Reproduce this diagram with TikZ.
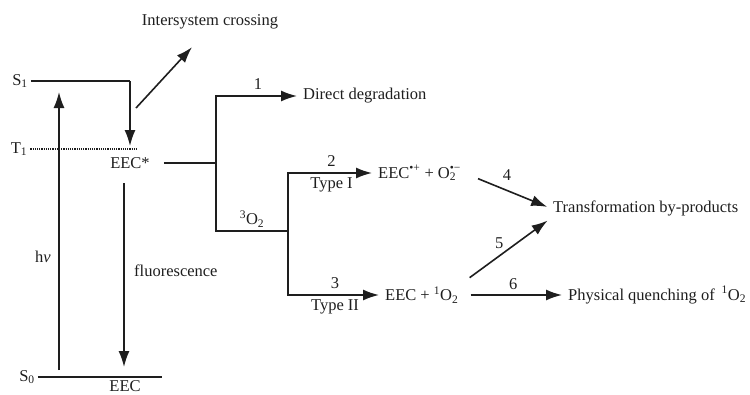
\documentclass[tikz,border=0pt]{standalone}
\usepackage{fontspec}
\setmainfont{Liberation Serif}
\usepackage{xcolor}
\definecolor{cMain}{HTML}{1E1E1E}
\usetikzlibrary{positioning,arrows.meta,calc}
\tikzset{
  lbl/.style={inner sep=3pt,text=cMain,font=\fontsize{16.5}{19}\selectfont},
  num/.style={lbl,inner sep=1pt},
  line-main/.style={line width=1.6pt,draw=cMain},
  arrow/.style={line-main,-{Latex[length=16pt,width=11pt]},shorten >=3pt},
  level-dot/.style={line width=1.2pt,draw=cMain,densely dotted},
}

\begin{document}
\begin{tikzpicture}[x=1pt,y=-1pt]
  \useasboundingbox (0,0) rectangle (750,394);
  % energy levels
  \node[lbl] (s1) at (20,81) {S\textsubscript{1}};
  \node[lbl] (t1) at (19,149) {T\textsubscript{1}};
  \node[lbl] (s0) at (27,377) {S\textsubscript{0}};
  \coordinate (s1r) at (130,81);
  \coordinate (t1r) at (138,149);
  \coordinate (s0r) at (162,377);
  \draw[line-main] (s1) -- (s1r);
  \draw[level-dot] (t1) -- (t1r);
  \draw[line-main] (s0) -- (s0r);
  \node[lbl] (eecs) at (130,163) {EEC*};
  \node[lbl] (eec0) at (125,386) {EEC};
  \node[lbl] (isc) at (210,22) {Intersystem crossing};
  \node[lbl] (hv) at (43,257) {h\textit{ν}};
  \node[lbl,anchor=west] (fl) at (131,271) {fluorescence};
  \coordinate (iscA) at (136,108);
  \coordinate (iscB) at (194,45);
  \coordinate (hvA) at (59,370);
  \coordinate (hvB) at (59,89);
  \coordinate (flA) at (124,183);
  \coordinate (flB) at (124,370);
  \draw[arrow] (s1r) -- (s1r |- t1r);
  \draw[arrow] (iscA) -- (iscB);
  \draw[arrow] (hvA) -- (hvB);
  \draw[arrow] (flA) -- (flB);
  % reaction pathways
  \node[lbl,anchor=west] (dd) at (300,96) {Direct degradation};
  \node[lbl,anchor=west] (t1p) at (375,173)
    {EEC\textsuperscript{•+} + O\rlap{\textsubscript{2}}\textsuperscript{•−}};
  \node[lbl,anchor=west] (t2p) at (382,295) {EEC + \textsuperscript{1}O\textsubscript{2}};
  \node[lbl,anchor=west] (tbp) at (550,208) {Transformation by-products};
  \node[lbl,anchor=west] (pq) at (565,295)
    {Physical quenching of \,\textsuperscript{1}O\textsubscript{2}};
  \coordinate (j1) at (216,163);
  \coordinate (j2) at (288,231);
  \draw[line-main,shorten <=11pt] (eecs) -- (j1);
  \draw[arrow] (j1) |- node[num,above=5pt,pos=0.75]{1} (dd);
  \draw[line-main] (j1) |- node[lbl,above,pos=0.75]{\textsuperscript{3}O\textsubscript{2}} (j2);
  \draw[arrow] (j2) |- node[num,above=5pt,pos=0.75]{2}
    node[lbl,below=1pt,pos=0.75]{Type I} (t1p);
  \draw[arrow] (j2) |- node[num,above=5pt,pos=0.75]{3}
    node[lbl,below=1pt,pos=0.75]{Type II} (t2p);
  \draw[arrow,shorten <=15pt] (t1p.east) -- node[num,above=8pt]{4} (tbp.west);
  \draw[arrow,shorten <=10pt] (t2p.north east) -- node[num,above left=1pt]{5} (tbp.south west);
  \draw[arrow,shorten <=9pt] (t2p) -- node[num,above=4pt]{6} (pq);
\end{tikzpicture}
\end{document}
